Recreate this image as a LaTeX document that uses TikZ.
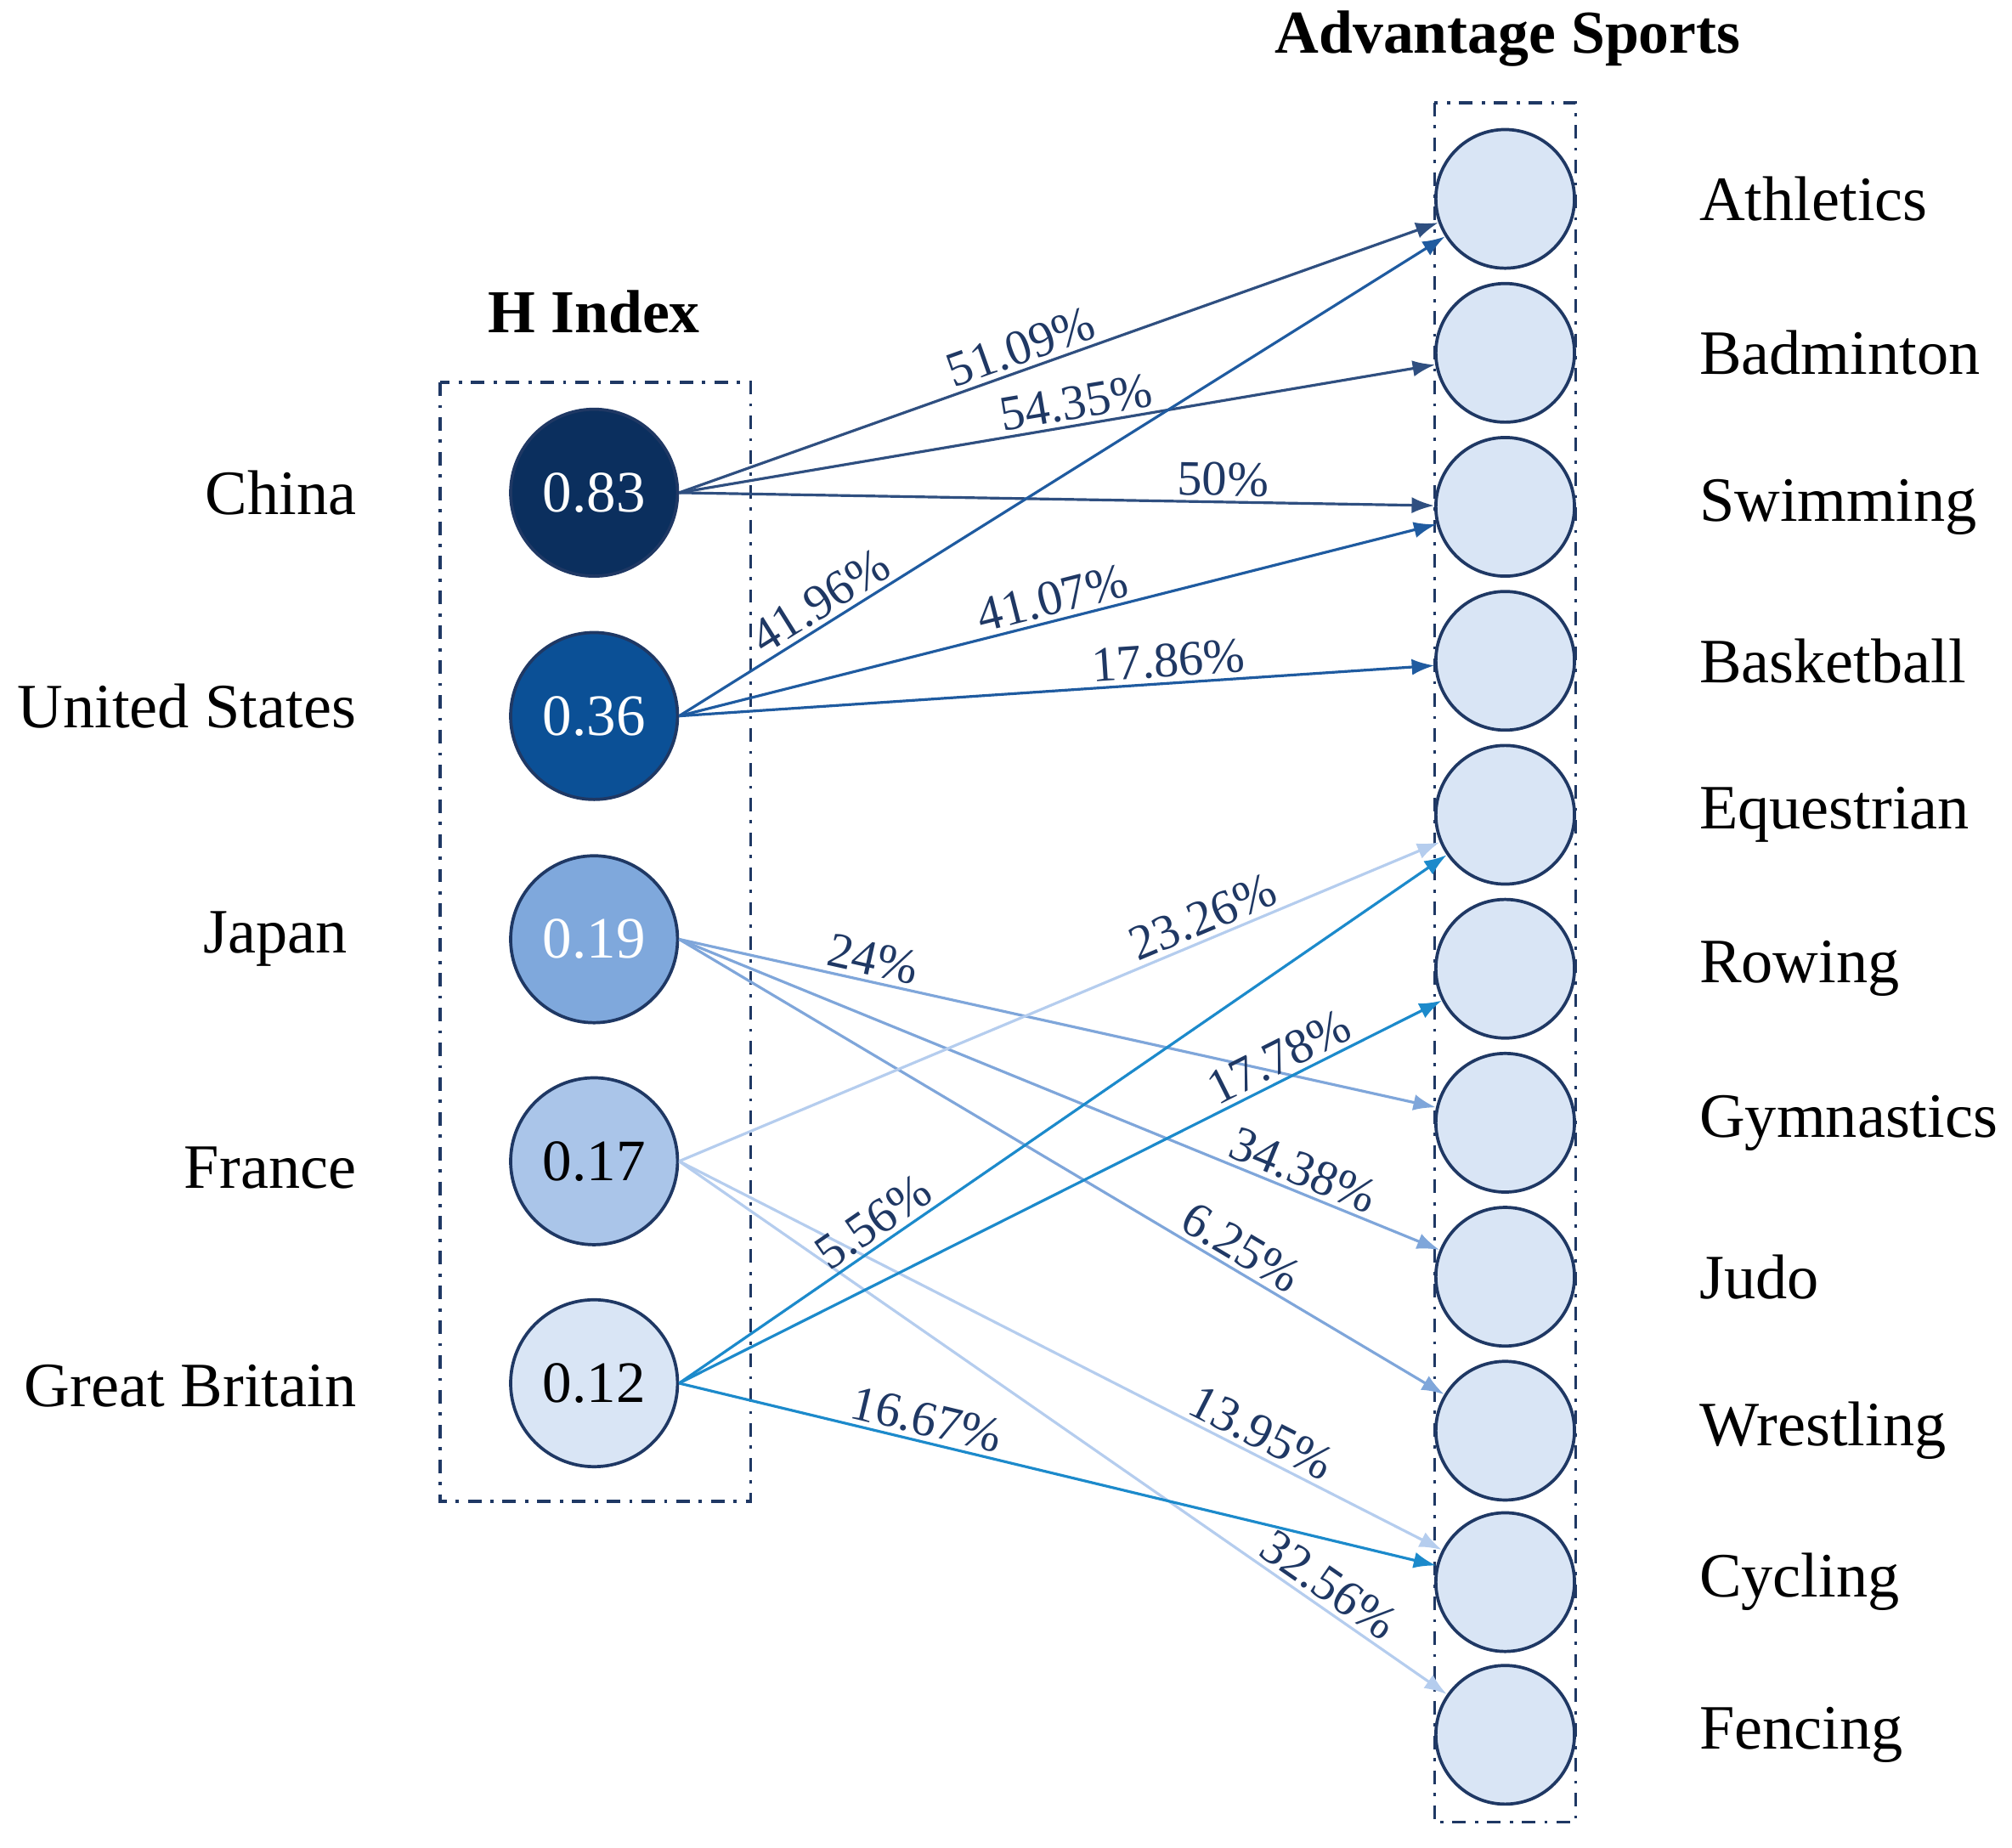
\documentclass[tikz,border=0pt]{standalone}
\usepackage{fontspec}
\setmainfont{Liberation Serif}
\usetikzlibrary{arrows.meta}
\definecolor{navy}{HTML}{1F3864}
\definecolor{cChina}{HTML}{0B2F5E}
\definecolor{cUS}{HTML}{0B5096}
\definecolor{cJP}{HTML}{7FA8DC}
\definecolor{cFR}{HTML}{AAC5E9}
\definecolor{cGB}{HTML}{D9E5F5}
\definecolor{eChina}{HTML}{2F4F80}
\definecolor{eUS}{HTML}{1F5BA0}
\definecolor{eJP}{HTML}{7FA6DA}
\definecolor{eFR}{HTML}{B5CDEE}
\definecolor{eGB}{HTML}{1C8ACB}
\begin{document}
\begin{tikzpicture}[x=0.01cm,y=-0.01cm,
  lc/.style={circle,draw=navy,line width=0.7pt,minimum size=1.3cm,inner sep=0pt,font=\fontsize{13}{13}\selectfont},
  rc/.style={circle,draw=navy,line width=0.7pt,fill=cGB,minimum size=1.08cm,inner sep=0pt},
  box/.style={draw=navy,line width=0.7pt,dash dot},
  cl/.style={anchor=east,font=\fontsize{14}{14}\selectfont},
  sl/.style={anchor=west,font=\fontsize{14}{14}\selectfont},
  tt/.style={font=\bfseries\fontsize{13.5}{13.5}\selectfont},
  ed/.style={line width=0.6pt,-{Latex[length=5pt,width=3.6pt]}},
  pl/.style={sloped,above,inner sep=1pt,text=navy,font=\fontsize{11}{11}\selectfont}]
\useasboundingbox (0,0) rectangle (1568,1440);
\draw[box] (343,298) rectangle (585,1170);
\draw[box] (1118,80) rectangle (1228,1420);
\node[tt] (t1) at (463,243) {H Index};
\node[tt] (t2) at (1175,30) {Advantage Sports};
\node[lc,fill=cChina,text=white] (cn) at (463,384) {0.83};
\node[lc,fill=cUS,text=white] (us) at (463,558) {0.36};
\node[lc,fill=cJP,text=white] (jp) at (463,732) {0.19};
\node[lc,fill=cFR] (fr) at (463,905) {0.17};
\node[lc,fill=cGB] (gb) at (463,1078) {0.12};
\node[cl] (lcn) at (290,384) {China};
\node[cl] (lus) at (290,550) {United States};
\node[cl] (ljp) at (283,732) {Japan};
\node[cl] (lfr) at (290,910) {France};
\node[cl] (lgb) at (290,1080) {Great Britain};
\foreach \n/\y/\t in {ath/155/Athletics,bad/275/Badminton,swi/395/Swimming,bas/515/Basketball,equ/635/Equestrian,row/755/Rowing,gym/875/Gymnastics,jud/995/Judo,wre/1115/Wrestling,cyc/1233/Cycling,fen/1352/Fencing}{
  \node[rc] (\n) at (1173,\y) {};
  \node[sl] (l\n) at (1312,\y) {\t};
}
\draw[ed,eChina] (cn.east) -- node[pl,pos=0.46] {51.09\%} (ath);
\draw[ed,eChina] (cn.east) -- node[pl,pos=0.53] {54.35\%} (bad);
\draw[ed,eChina] (cn.east) -- node[pl,pos=0.72] {50\%} (swi);
\draw[ed,eUS] (us.east) -- node[pl,pos=0.2] {41.96\%} (ath);
\draw[ed,eUS] (us.east) -- node[pl,pos=0.5] {41.07\%} (swi);
\draw[ed,eUS] (us.east) -- node[pl,pos=0.65] {17.86\%} (bas);
\draw[ed,eJP] (jp.east) -- node[pl,pos=0.25] {24\%} (gym);
\draw[ed,eJP] (jp.east) -- node[pl,pos=0.81] {34.38\%} (jud);
\draw[ed,eJP] (jp.east) -- node[pl,pos=0.72] {6.25\%} (wre);
\draw[ed,eFR] (fr.east) -- node[pl,pos=0.7] {23.26\%} (equ);
\draw[ed,eFR] (fr.east) -- node[pl,pos=0.75] {13.95\%} (cyc);
\draw[ed,eFR] (fr.east) -- node[pl,pos=0.83] {32.56\%} (fen);
\draw[ed,eGB] (gb.east) -- node[pl,pos=0.27] {5.56\%} (equ);
\draw[ed,eGB] (gb.east) -- node[pl,pos=0.8] {17.78\%} (row);
\draw[ed,eGB] (gb.east) -- node[pl,pos=0.32] {16.67\%} (cyc);
\end{tikzpicture}
\end{document}
